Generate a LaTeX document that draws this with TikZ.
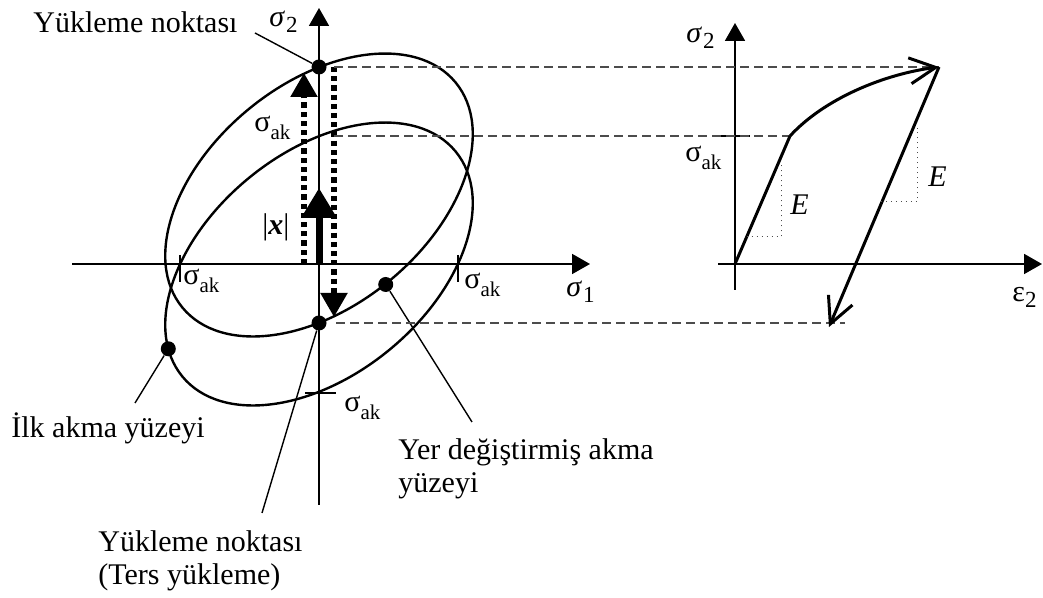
\documentclass[tikz,border=0pt]{standalone}
\usepackage{fontspec}
\setmainfont{Liberation Serif}
\usetikzlibrary{arrows.meta}
\newcommand\sak{σ\raisebox{-4pt}{\fontsize{10.5}{12}\selectfont ak}}
\newcommand\isig[1]{\textit{σ}\kern0.5pt\raisebox{-3pt}{\fontsize{11.5}{12}\selectfont #1}}
\begin{document}
\begin{tikzpicture}[x=0.5pt,y=0.5pt,
  lbl/.style={inner sep=0, font=\fontsize{15}{16.5}\selectfont},
  dot/.style={circle, fill, inner sep=0, minimum size=7.5pt},
  axis/.style={line width=0.9pt, -{Triangle[length=9pt,width=10pt]}},
  yield/.style={line width=1.2pt},
  leader/.style={line width=0.7pt},
  proj/.style={line width=0.9pt, black!70, dash pattern=on 4.5pt off 2.5pt},
  dotarrow/.style={line width=2.6pt, dash pattern=on 2.6pt off 2pt, -{Triangle[length=12pt,width=13pt]}},
  slope/.style={line width=0.5pt, dotted, black!70},
  curve/.style={line width=1.5pt},
  barb/.style={-{Straight Barb[length=13pt,width=13pt,line width=1.5pt]}},
  tick/.style={line width=0.9pt}
]
\useasboundingbox (0,0) rectangle (1043,598);

% ---------- left figure ----------
\coordinate (O) at (319,334);
\coordinate (C1) at (319,403);
\coordinate (xl) at (72,334);
\coordinate (xr) at (590,334);
\coordinate (yb) at (319,93);
\coordinate (yt) at (319,590);

\draw[axis] (xl) -- (xr);
\draw[axis] (yb) -- (yt);

% yield surfaces
\draw[yield, rotate around={39.5:(O)}] (O) ellipse [x radius=177, y radius=111];
\draw[yield, rotate around={39.5:(C1)}] (C1) ellipse [x radius=177, y radius=111];

% ticks
\coordinate (tl1) at (180,343); \coordinate (tl2) at (180,316);
\coordinate (tr1) at (458,343); \coordinate (tr2) at (458,316);
\coordinate (tb1) at (305,205); \coordinate (tb2) at (336,205);
\draw[tick] (tl1) -- (tl2);
\draw[tick] (tr1) -- (tr2);
\draw[tick] (tb1) -- (tb2);

% dots
\node[dot] (lp) at (319,531) {};
\node[dot] (rp) at (319,275) {};
\node[dot] (dA) at (385.7,313.5) {};
\node[dot] (dB) at (168.3,249.2) {};

% arrows along sigma2
\coordinate (da1) at (304,334); \coordinate (da2) at (304,525);
\coordinate (db1) at (334,531); \coordinate (db2) at (334,281);
\draw[dotarrow] (da1) -- (da2);
\draw[dotarrow] (db1) -- (db2);
\draw[line width=3.5pt, -{Triangle[length=15pt,width=17pt]}] (O) -- (319,410);

% labels
\node[lbl, anchor=base west] (s2a) at (269,571) {\isig{2}};
\node[lbl, anchor=base west] (s1) at (566,301) {\isig{1}};
\node[lbl, anchor=base west] (ak1) at (183,313) {\sak};
\node[lbl, anchor=base west] (ak2) at (464,309) {\sak};
\node[lbl, anchor=base west] (ak3) at (344,186) {\sak};
\node[lbl, anchor=base west] (ak4) at (254,466) {\sak};
\node[lbl, anchor=base west] (xn) at (262,363) {|\textbf{\textit{x}}|};

\node[lbl, anchor=base west] (t1) at (33,565) {Yükleme noktası};
\node[lbl, anchor=base west] (t2) at (11,160) {İlk akma yüzeyi};
\node[lbl, anchor=base west, align=left] (t3) at (98,13) {Yükleme noktası\\(Ters yükleme)};
\node[lbl, anchor=base west, align=left] (t4) at (398,105) {Yer değiştirmiş akma\\yüzeyi};

% leaders
\coordinate (l1) at (255,565);
\coordinate (l2) at (135,195);
\coordinate (l3) at (262,85);
\coordinate (l4) at (472,176);
\draw[leader] (l1) -- (lp);
\draw[leader] (l2) -- (dB);
\draw[leader] (l3) -- (rp);
\draw[leader] (l4) -- (dA);

% ---------- right figure ----------
\coordinate (O2) at (735,334);
\coordinate (K) at (790,462);
\coordinate (T) at (939,531);
\coordinate (U) at (829,271);
\draw[axis] (718,334) -- (1042,334);
\draw[axis] (735,308) -- (735,575);
\draw[tick] (720,462) -- (750,462);

% projection lines
\coordinate (p1) at (334,531);
\coordinate (p2) at (334,462);
\coordinate (p3) at (336,275);
\coordinate (p3e) at (845,275);
\draw[proj] (p1) -- (T);
\draw[proj] (p2) -- (K);
\draw[proj] (p3) -- (p3e);

% stress-strain curve
\draw[curve, line join=round] (O2) -- (K);
\draw[curve, barb] (K) .. controls (825,500) and (885,524) .. (T);
\draw[curve, barb] (T) -- (U);

% slope triangles
\draw[slope] (746.7,361) -- (781,361) -- (781,433);
\draw[slope] (880.9,396) -- (917,396) -- (917,470);

\node[lbl, anchor=base west] (s2b) at (686,555) {\isig{2}};
\node[lbl, anchor=base west] (e2) at (1012,296) {ε\raisebox{-3pt}{\fontsize{11.5}{12}\selectfont 2}};
\node[lbl, anchor=base west] (ak5) at (685,436) {\sak};
\node[lbl, anchor=base west] (E1) at (790,383) {\textit{E}};
\node[lbl, anchor=base west] (E2) at (928,411) {\textit{E}};
\end{tikzpicture}
\end{document}
